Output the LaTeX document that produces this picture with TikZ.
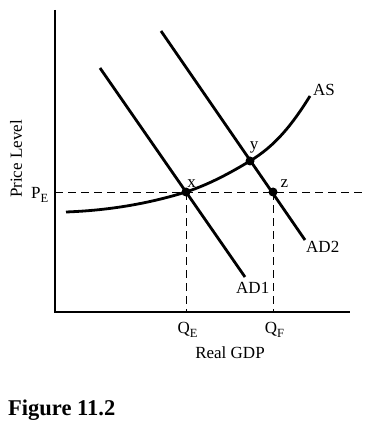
\documentclass[tikz,border=0pt]{standalone}
\usepackage{fontspec}
\setmainfont{Liberation Serif}
\newcommand{\mysub}[1]{\raisebox{-4pt}{\fontsize{12.5}{13}\selectfont #1}}
\begin{document}
\begin{tikzpicture}[x=1pt,y=-1pt,
  curve/.style={line width=2.8pt},
  axis/.style={line width=1.1pt},
  guide/.style={line width=0.9pt,dash pattern=on 8pt off 5pt},
  lbl/.style={font=\fontsize{17}{19}\selectfont,inner sep=0pt},
  dot/.style={circle,fill=black,inner sep=0pt,minimum size=9pt}]
\useasboundingbox (0,0) rectangle (368,430);
% axes
\coordinate (top) at (55,10);
\coordinate (orig) at (55,312);
\coordinate (xend) at (350,312);
\draw[axis] (top) -- (orig) -- (xend);
% points
\node[dot] (x) at (186,192) {};
\node[dot] (y) at (250,161) {};
\node[dot] (z) at (273,192) {};
\coordinate (pe0) at (55,192);
\coordinate (pe1) at (363,192);
\coordinate (qe) at (186,312);
\coordinate (qf) at (273,312);
% dashed guides
\draw[guide] (pe0) -- (pe1);
\draw[guide] (x.center) -- (qe);
\draw[guide] (z.center) -- (qf);
% AD curves
\coordinate (ad1a) at (100,68);
\coordinate (ad1b) at (245,277);
\coordinate (ad2a) at (161,31);
\coordinate (ad2b) at (305,240);
\draw[curve] (ad1a) -- (ad1b);
\draw[curve] (ad2a) -- (ad2b);
% AS curve
\coordinate (as0) at (66,212);
\coordinate (as1) at (310,96);
\draw[curve] (as0) .. controls (120,210) and (160,200) .. (x.center)
  .. controls (210,184) and (230,173) .. (y.center)
  .. controls (275,146) and (292,125) .. (as1);
% labels
\node[lbl,anchor=base west] (lAS) at (313,96) {AS};
\node[lbl,anchor=base] (ly) at (254,150) {y};
\node[lbl,anchor=base] (lx) at (191.5,187) {x};
\node[lbl,anchor=base] (lz) at (284.5,188) {z};
\node[lbl,anchor=base west] (lAD2) at (306,252) {AD2};
\node[lbl,anchor=base west] (lAD1) at (236,293) {AD1};
\node[lbl,anchor=base] (lQE) at (187.5,333) {Q\mysub{E}};
\node[lbl,anchor=base] (lQF) at (274.5,333) {Q\mysub{F}};
\node[lbl,anchor=base] (lgdp) at (230,358) {Real GDP};
\node[lbl,anchor=base west] (lPE) at (31,198) {P\mysub{E}};
\node[lbl,rotate=90] (lpl) at (16,159) {Price Level};
\node[font=\fontsize{22.5}{24}\selectfont\bfseries,inner sep=0pt,anchor=base west] (fig) at (8,415) {Figure 11.2};
\end{tikzpicture}
\end{document}
